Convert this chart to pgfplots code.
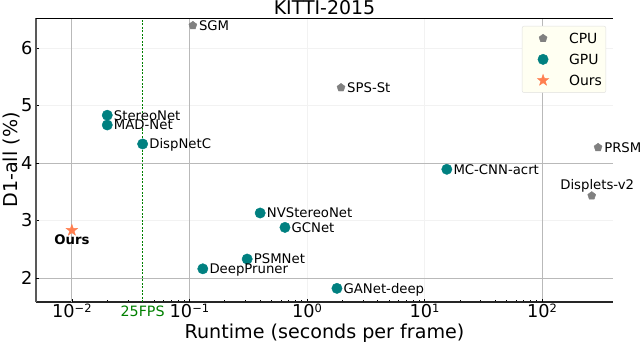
\documentclass[border=0pt]{standalone}
\usepackage{fontspec}
\setmainfont{DejaVu Sans}
\usepackage{pgfplots}
\usepackage{pgfplotstable}
\pgfplotsset{compat=1.18}

\definecolor{cpu}{RGB}{128,128,128}
\definecolor{gpu}{RGB}{0,128,128}
\definecolor{ours}{RGB}{255,127,80}
\definecolor{fps}{RGB}{0,128,0}
\definecolor{legbg}{RGB}{255,255,242}

% filled five-pointed star
\pgfdeclareplotmark{fstar}{%
  \pgfpathmoveto{\pgfpointpolar{90}{\pgfplotmarksize}}%
  \pgfpathlineto{\pgfpointpolar{126}{0.4\pgfplotmarksize}}%
  \pgfpathlineto{\pgfpointpolar{162}{\pgfplotmarksize}}%
  \pgfpathlineto{\pgfpointpolar{198}{0.4\pgfplotmarksize}}%
  \pgfpathlineto{\pgfpointpolar{234}{\pgfplotmarksize}}%
  \pgfpathlineto{\pgfpointpolar{270}{0.4\pgfplotmarksize}}%
  \pgfpathlineto{\pgfpointpolar{306}{\pgfplotmarksize}}%
  \pgfpathlineto{\pgfpointpolar{342}{0.4\pgfplotmarksize}}%
  \pgfpathlineto{\pgfpointpolar{18}{\pgfplotmarksize}}%
  \pgfpathlineto{\pgfpointpolar{54}{0.4\pgfplotmarksize}}%
  \pgfpathclose
  \pgfusepathqfillstroke}

\newcommand{\lf}{\fontsize{13.3}{14}\selectfont}
\newcommand{\tp}[1]{10\raisebox{4.5bp}{\fontsize{11.5}{12}\selectfont #1}}

\pgfplotstableread{
x y label
0.107 6.39 SGM
1.95 5.31 SPS-St
300 4.27 PRSM
}\cpudata

\pgfplotstableread{
x y label
0.02 4.83 StereoNet
0.02 4.66 MAD-Net
0.04 4.33 DispNetC
15.5 3.89 MC-CNN-acrt
0.40 3.13 NVStereoNet
0.65 2.88 GCNet
0.31 2.33 PSMNet
0.13 2.16 DeepPruner
1.8 1.82 GANet-deep
}\gpudata

\begin{document}
\begin{tikzpicture}
\begin{axis}[
    name=ax,
    scale only axis,
    width=577bp, height=284bp,
    xmode=log,
    xmin=0.00495, xmax=402,
    ymin=1.583, ymax=6.52,
    clip=false,
    axis x line*=bottom,
    axis y line*=left,
    x axis line style={line width=1.4bp, black!85},
    y axis line style={line width=1.2bp, black!65},
    xtick={0.01,0.1,1,10,100},
    xticklabels={\tp{−2},\tp{−1},\tp{0},\tp{1},\tp{2}},
    ytick={2,3,4,5,6},
    grid=major,
    major grid style={gray!10, line width=0.8bp},
    extra x ticks={0.01,0.1,100},
    extra x tick labels={},
    extra y ticks={2,4},
    extra y tick labels={},
    extra tick style={major grid style={gray!55, line width=0.8bp}},
    tick align=inside,
    major tick length=3bp,
    minor tick length=2bp,
    tick style={black, line width=0.6bp},
    /pgf/number format/assume math mode=true,
    xticklabel style={font=\fontsize{17.8}{18}\selectfont, anchor=base, inner sep=0pt, yshift=-15bp},
    yticklabel style={font=\fontsize{17.8}{18}\selectfont, anchor=east, inner sep=0pt, xshift=-3.5bp, text height=13bp, text depth=0pt},
    xlabel={Runtime (seconds per frame)},
    ylabel={D1-all (\%)},
    xlabel style={font=\fontsize{19.2}{20}\selectfont, at={(axis description cs:0.5,-0.1285)}, anchor=base, inner sep=0pt},
    ylabel style={font=\fontsize{19.2}{20}\selectfont, at={(axis description cs:-0.032,0.5)}, anchor=base, inner sep=0pt},
    title={KITTI-2015},
    every axis title shift=0pt,
    title style={font=\fontsize{19}{20}\selectfont, at={(axis description cs:0.5,1)}, anchor=base, inner sep=0pt, yshift=3bp},
    legend style={
        at={(0.988,0.972)}, anchor=north east,
        fill=legbg, draw=gray!25, rounded corners=2bp,
        font=\fontsize{14}{14}\selectfont,
        row sep=6.5bp, inner xsep=2bp, inner ysep=5bp,
        nodes={text height=10.5bp, text depth=0pt},
    },
    legend cell align=left,
    legend image code/.code={%
        \path[draw=none, fill=none] (-19bp,0bp) rectangle (24bp,0bp);
        \draw[#1, mark repeat=1] plot coordinates {(0bp,0bp)};},
]

\addplot[only marks, mark=pentagon*, mark size=4.2bp, color=cpu,
    nodes near coords, point meta=explicit symbolic,
    nodes near coords style={anchor=west, inner sep=0pt, xshift=6bp, font=\lf, text=black, text height=9.7bp, text depth=0pt}]
    table[x=x, y=y, meta=label] {\cpudata};
\addlegendentry{CPU}

\addplot[only marks, mark=*, mark size=5.2bp, color=gpu,
    nodes near coords, point meta=explicit symbolic,
    nodes near coords style={anchor=west, inner sep=0pt, xshift=6.5bp, font=\lf, text=black, text height=9.7bp, text depth=0pt}]
    table[x=x, y=y, meta=label] {\gpudata};
\addlegendentry{GPU}

\addplot[only marks, mark=fstar, mark size=6bp, color=ours,
    nodes near coords, point meta=explicit symbolic,
    nodes near coords style={anchor=center, inner sep=0pt, yshift=-9.5bp, font=\lf\bfseries, text=black, text height=9.7bp, text depth=0pt}]
    coordinates {(0.01,2.83) [Ours]};
\addlegendentry{Ours}

\addplot[only marks, mark=pentagon*, mark size=4.2bp, color=cpu, forget plot,
    nodes near coords, point meta=explicit symbolic,
    nodes near coords style={anchor=south, inner sep=0pt, xshift=5.5bp, yshift=6bp, font=\lf, text=black, text height=9.7bp, text depth=0pt}]
    coordinates {(265,3.43) [Displets-v2]};

\addplot[fps, line width=1bp, dash pattern=on 2bp off 1.5bp, forget plot]
    coordinates {(0.04,1.583) (0.04,6.52)};

\node[text=fps, font=\fontsize{14.3}{15}\selectfont, anchor=base, inner sep=0pt, yshift=-14.5bp]
    at (axis cs:0.04,1.583) {25FPS};

\draw[line width=0.8bp, black] (rel axis cs:0,1) -- (rel axis cs:1,1);
\end{axis}
\pgfresetboundingbox
\path[use as bounding box] ([shift={(-36bp,-41bp)}]ax.south west) rectangle ([shift={(27bp,18bp)}]ax.north east);
\end{tikzpicture}
\end{document}
